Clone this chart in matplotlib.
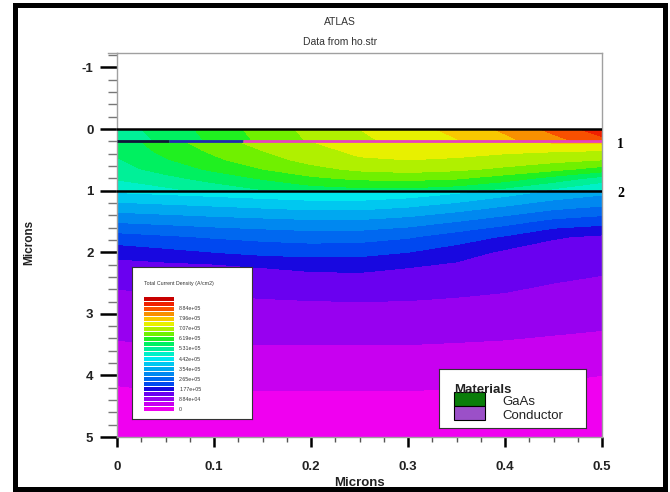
import numpy as np
import matplotlib
matplotlib.use("Agg")
import matplotlib.pyplot as plt
from matplotlib.patches import Rectangle
from matplotlib.ticker import MultipleLocator

plt.rcParams['font.family'] = ['Liberation Sans', 'DejaVu Sans']

W, H = 670, 492

# contour bands, bottom (0 A/cm2) to top; one band = 4.42e4 A/cm2
BAND_COLORS = [
    "#f000f0", "#c800f0", "#9800f0", "#6a00f0", "#1808e0", "#0048f0",
    "#0068f0", "#0088f0", "#00a8f0", "#00c8f0", "#00e8f0", "#00f0c8",
    "#00f098", "#00f060", "#20f020", "#70f000", "#b0f000", "#e8f000",
    "#f8c800", "#f89000", "#f85000", "#f02000", "#c80000",
]
CBAR_LABELS = ["0", "8.84e+04", "1.77e+05", "2.65e+05", "3.54e+05", "4.42e+05",
               "5.31e+05", "6.19e+05", "7.07e+05", "7.96e+05", "8.84e+05"]

# current density, in units of one band (4.42e4 A/cm2)
X_POS = [0, 0.05, 0.1, 0.15, 0.2, 0.25, 0.3, 0.35, 0.4, 0.45, 0.5]

Y_TOP = [0.0, 0.2]
J_TOP = [
    [12.6, 13.4, 14.4, 15.4, 16.3, 17.0, 17.6, 18.3, 19.2, 20.3, 21.6],
    [12.4, 13.2, 14.2, 15.2, 16.1, 16.8, 17.3, 17.9, 18.7, 19.6, 20.6],
]

Y_MID = [0.2, 0.35, 0.5, 0.65, 0.8, 1.0]
J_MID = [
    [13.4, 14.6, 15.6, 16.4, 17.0, 17.4, 17.6, 17.8, 18.0, 18.2, 18.4],
    [13.2, 14.3, 15.2, 16.0, 16.7, 17.2, 17.3, 17.3, 17.2, 17.1, 17.0],
    [12.9, 13.9, 14.8, 15.6, 16.3, 16.9, 17.0, 16.9, 16.6, 16.3, 16.0],
    [12.6, 13.4, 14.2, 15.0, 15.7, 16.2, 16.4, 16.2, 15.8, 15.3, 14.6],
    [12.1, 12.7, 13.4, 14.1, 14.8, 15.2, 15.3, 15.1, 14.5, 13.6, 12.6],
    [11.3, 11.7, 12.3, 12.9, 13.4, 13.6, 13.6, 13.3, 12.6, 11.7, 10.8],
]

Y_BOT = [1.0, 1.25, 1.5, 1.75, 2.0, 2.25, 2.5, 3.0, 3.5, 4.0, 4.5, 5.0]
J_BOT = [
    [10.2, 10.4, 10.6, 10.8, 11.0, 11.0, 10.8, 10.3, 9.6, 8.9, 8.4],
    [8.6, 8.8, 9.0, 9.2, 9.4, 9.4, 9.1, 8.6, 8.0, 7.4, 7.0],
    [7.1, 7.3, 7.5, 7.65, 7.8, 7.8, 7.5, 7.0, 6.4, 5.7, 5.4],
    [5.6, 5.85, 6.1, 6.3, 6.45, 6.4, 6.1, 5.5, 4.9, 4.1, 3.8],
    [4.4, 4.7, 5.0, 5.25, 5.35, 5.3, 5.0, 4.5, 3.8, 3.5, 3.4],
    [3.5, 3.6, 3.7, 4.0, 4.2, 4.25, 4.0, 3.7, 3.4, 3.2, 3.1],
    [3.1, 3.15, 3.2, 3.3, 3.4, 3.45, 3.4, 3.3, 3.2, 3.0, 2.9],
    [2.6, 2.7, 2.7, 2.7, 2.7, 2.7, 2.7, 2.65, 2.55, 2.45, 2.35],
    [1.9, 2.0, 2.0, 2.0, 2.0, 2.0, 2.0, 1.95, 1.9, 1.8, 1.7],
    [1.2, 1.3, 1.3, 1.3, 1.3, 1.3, 1.3, 1.25, 1.2, 1.1, 1.0],
    [0.6, 0.7, 0.7, 0.7, 0.7, 0.7, 0.7, 0.65, 0.6, 0.55, 0.5],
    [0.2, 0.2, 0.2, 0.2, 0.2, 0.2, 0.2, 0.2, 0.2, 0.2, 0.2],
]

# region boundary at y=0.2, coloured in pieces
LINE1_X = [0, 0.054, 0.13, 0.5]
LINE1_COLORS = ["#101838", "#2028b0", "#e840c0"]

X_TICKS = [0, 0.1, 0.2, 0.3, 0.4, 0.5]
X_TICK_LABELS = ["0", "0.1", "0.2", "0.3", "0.4", "0.5"]
Y_TICKS = [-1, 0, 1, 2, 3, 4, 5]
Y_TICK_LABELS = ["-1", "0", "1", "2", "3", "4", "5"]

MATERIALS = ["GaAs", "Conductor"]
MAT_COLORS = ["#0a7d0a", "#9b50c8"]


def fx(px):
    return px / W


def fy(py):
    return 1 - py / H


fig = plt.figure(figsize=(W / 100, H / 100), dpi=100)
ax = fig.add_axes([fx(117), fy(437), (602 - 117) / W, (437 - 52.7) / H])

levels = np.arange(len(BAND_COLORS) + 1)
for ys, js in [(Y_TOP, J_TOP), (Y_MID, J_MID), (Y_BOT, J_BOT)]:
    ax.contourf(X_POS, ys, js, levels=levels, colors=BAND_COLORS)

ax.axhline(0, color="black", lw=1.8, zorder=4)
ax.axhline(1.0, color="black", lw=1.8, zorder=4)
for i, c in enumerate(LINE1_COLORS):
    ax.plot(LINE1_X[i:i + 2], [0.2, 0.2], color=c, lw=2, solid_capstyle="butt", zorder=4)

ytr = ax.get_yaxis_transform()
ax.text(1.031, 0.25, "1", transform=ytr, ha="left", va="center",
        fontfamily="Liberation Serif", fontweight="bold", fontsize=10)
ax.text(1.031, 1.04, "2", transform=ytr, ha="left", va="center",
        fontfamily="Liberation Serif", fontweight="bold", fontsize=10)

ax.set_xlim(0, 0.5)
ax.set_ylim(5, -1.24)
ax.set_xticks(X_TICKS, labels=X_TICK_LABELS, fontweight="bold", fontsize=9.5)
ax.set_yticks(Y_TICKS, labels=Y_TICK_LABELS, fontweight="bold", fontsize=9.5)
ax.xaxis.set_minor_locator(MultipleLocator(0.025))
ax.yaxis.set_minor_locator(MultipleLocator(0.2))
ax.tick_params(axis="y", which="major", length=12, width=1.8, color="black", pad=5, labelcolor="#222")
ax.tick_params(axis="y", which="minor", length=6.5, width=1, color="#777")
ax.tick_params(axis="x", which="major", length=7, width=1.8, color="black", pad=10, labelcolor="#222")
ax.tick_params(axis="x", which="minor", length=3.3, width=1, color="#555")
for s in ax.spines.values():
    s.set_color("#a0a0a0")
    s.set_linewidth(1)
ax.plot([-0.0186, 0], [1, 1], transform=ax.transAxes, color="#a0a0a0", lw=1, clip_on=False)

ax.set_xlabel("Microns", fontweight="bold", fontsize=9.5, color="#222")
ax.set_ylabel("Microns", fontweight="bold", fontsize=8.5, color="#222")
ax.xaxis.set_label_coords(0.5, -0.104)
ax.yaxis.set_label_coords(-0.168, 0.505)

# contour legend box
lb = fig.add_axes([fx(132), fy(419), (252 - 132) / W, (419 - 267) / H], zorder=5)
lb.set_xticks([])
lb.set_yticks([])
for s in lb.spines.values():
    s.set_color("#333")
    s.set_linewidth(0.8)
fig.text(fx(144), fy(284), "Total Current Density (A/cm2)", fontsize=3.8,
         va="center", color="#333", zorder=7)

sw = fig.add_axes([fx(144), fy(412), 30 / W, 116 / H], zorder=6)
sw.barh(np.arange(len(BAND_COLORS)), 1, height=0.8, color=BAND_COLORS)
sw.set_xlim(0, 1)
sw.set_ylim(-0.5, len(BAND_COLORS) - 0.5)
sw.axis("off")
for k, lab in enumerate(CBAR_LABELS):
    sw.text(1.17, 2 * k, lab, fontsize=3.8, va="center", color="#333", clip_on=False)

# materials box
mb = fig.add_axes([fx(439), fy(428), 147 / W, 59 / H], zorder=5)
mb.set_xlim(0, 147)
mb.set_ylim(59, 0)
mb.set_xticks([])
mb.set_yticks([])
for s in mb.spines.values():
    s.set_color("#333")
    s.set_linewidth(0.8)
for i, (name, col) in enumerate(zip(MATERIALS, MAT_COLORS)):
    mb.add_patch(Rectangle((15, 23 + 14 * i), 31, 14, facecolor=col, edgecolor="black", lw=0.8))
    mb.text(63, 33 + 14 * i, name, fontsize=9.5, va="center", color="#222")
mb.text(15, 24, "Materials", fontsize=9.5, fontweight="bold", va="baseline", color="#222", zorder=5)

fig.text(fx(340), fy(22), "ATLAS", ha="center", va="center", fontsize=7.5, color="#333")
fig.text(fx(340), fy(42), "Data from ho.str", ha="center", va="center", fontsize=7.5, color="#333")

fig.add_artist(Rectangle((fx(14.5), fy(489)), (665 - 14.5) / W, (489 - 5) / H,
                         transform=fig.transFigure, fill=False, lw=3.6, edgecolor="black"))

fig.savefig("out.png", dpi=100)
